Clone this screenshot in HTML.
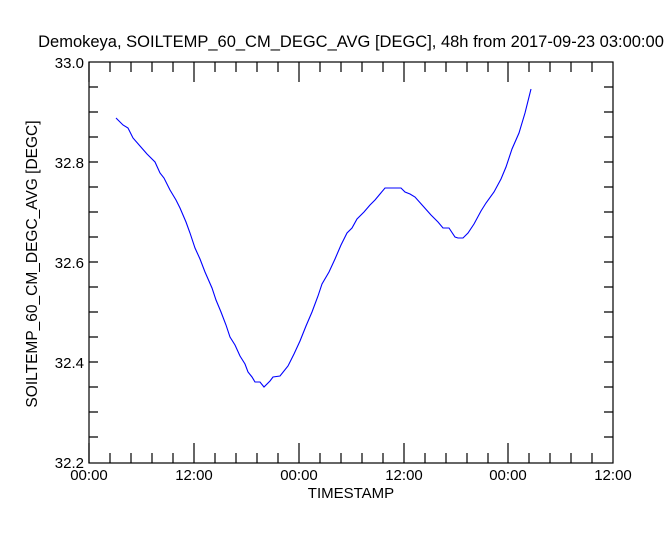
<!DOCTYPE html>
<html><head><style>body{margin:0;background:#fff}svg{display:block}text{font-family:"Liberation Sans",sans-serif;fill:#000}</style></head>
<body>
<svg width="666" height="533" xmlns="http://www.w3.org/2000/svg">
<text x="351" y="47" font-size="16.5" text-anchor="middle">Demokeya, SOILTEMP_60_CM_DEGC_AVG [DEGC], 48h from  2017-09-23 03:00:00</text>
<g stroke="#000" stroke-width="1.2" fill="none">
<rect x="89" y="62" width="524" height="401"/>
<path d="M89 463v-20M110 463v-10M131 463v-10M152 463v-10M173 463v-10M194 463v-20M215 463v-10M236 463v-10M257 463v-10M278 463v-10M299 463v-20M320 463v-10M341 463v-10M362 463v-10M383 463v-10M404 463v-20M425 463v-10M446 463v-10M467 463v-10M488 463v-10M508 463v-20M529 463v-10M550 463v-10M571 463v-10M592 463v-10"/>
<path d="M89 62v20M110 62v10M131 62v10M152 62v10M173 62v10M194 62v20M215 62v10M236 62v10M257 62v10M278 62v10M299 62v20M320 62v10M341 62v10M362 62v10M383 62v10M404 62v20M425 62v10M446 62v10M467 62v10M488 62v10M508 62v20M529 62v10M550 62v10M571 62v10M592 62v10"/>
<path d="M89 87h9M89 112h9M89 137h9M89 162h9M89 187h9M89 212h9M89 237h9M89 262h9M89 287h9M89 312h9M89 337h9M89 362h9M89 387h9M89 412h9M89 437h9"/>
<path d="M613 87h-9M613 112h-9M613 137h-9M613 162h-9M613 187h-9M613 212h-9M613 237h-9M613 262h-9M613 287h-9M613 312h-9M613 337h-9M613 362h-9M613 387h-9M613 412h-9M613 437h-9"/>
</g>
<g font-size="15" text-anchor="end">
<text x="84" y="68">33.0</text><text x="84" y="168">32.8</text><text x="84" y="268">32.6</text><text x="84" y="368">32.4</text><text x="84" y="468">32.2</text>
</g>
<g font-size="15" text-anchor="middle">
<text x="89" y="480">00:00</text><text x="194" y="480">12:00</text><text x="299" y="480">00:00</text><text x="404" y="480">12:00</text><text x="508" y="480">00:00</text><text x="613" y="480">12:00</text>
<text x="351" y="498">TIMESTAMP</text>
<text transform="translate(37,264) rotate(-90)" font-size="15.5">SOILTEMP_60_CM_DEGC_AVG [DEGC]</text>
</g>
<polyline fill="none" stroke="#0000ff" stroke-width="1.1" points="116,118 123,125 128,128 133,138 140,146 147,154 155,162 160,173 164,178 170,190 176,200 180,208 186,222 190,233 195,248 200,259 205,272 212,288 216,300 221,312 226,325 230,337 235,345 240,356 245,364 248,372 252,377 255,382 260,382 264,387 270,381 273,377 280,376 288,366 294,354 300,341 306,326 312,312 318,296 322,284 329,272 335,259 341,245 347,233 352,228 357,219 364,212 370,205 375,200 380,194 385,188 393,188 401,188 405,192 410,194 415,197 423,206 431,215 438,222 443,228 449,228 455,237 458,238 463,238 468,233 474,224 481,211 486,203 494,192 501,179 506,167 512,149 519,133 525,113 531,89"/>
</svg>
</body></html>
